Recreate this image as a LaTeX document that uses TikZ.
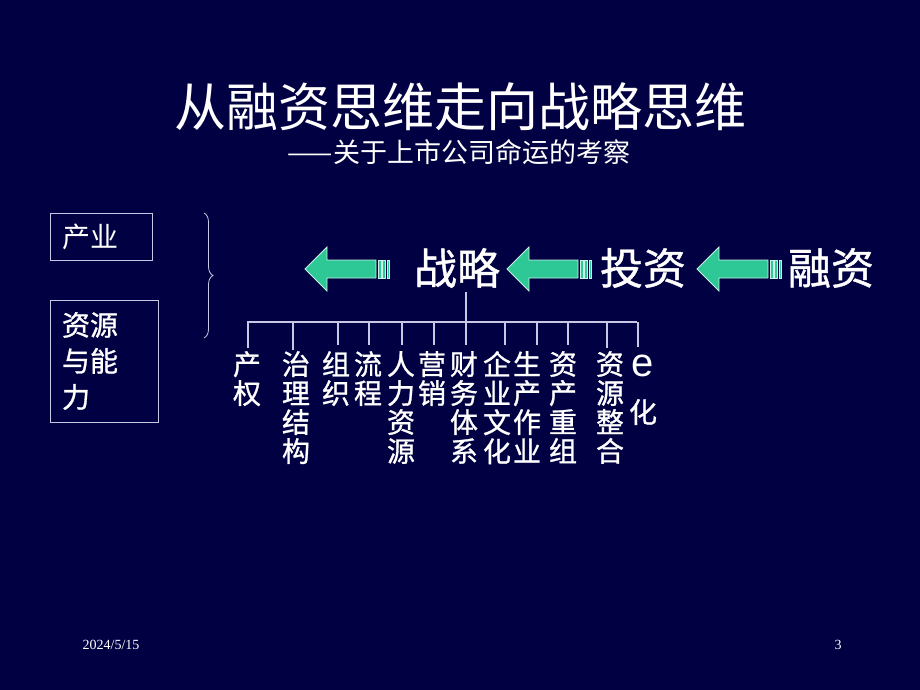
\documentclass[tikz,border=0pt]{standalone}
\usepackage{fontspec}
\setmainfont{Liberation Serif}
\newfontfamily\cjk{Noto Sans CJK SC}
\newfontfamily\cjkmid[FakeBold=1]{Noto Sans CJK SC}
\newfontfamily\latinsans{Liberation Sans}
\usetikzlibrary{positioning,decorations.pathreplacing}
\definecolor{slidebg}{RGB}{0,0,66}
\definecolor{arrowfill}{RGB}{45,200,150}
\definecolor{linegray}{RGB}{200,200,228}

\begin{document}
\begin{tikzpicture}[
  x=1pt,
  y=-1pt,
  item/.style={
    text=white,
    font=\cjkmid\fontsize{28}{29}\selectfont,
    align=center,
    inner sep=0pt,
    anchor=north
  },
  stage/.style={
    text=white,
    font=\cjkmid\fontsize{43}{43}\selectfont,
    inner sep=0pt
  },
  frame/.style={
    draw=linegray,
    line width=1pt,
    text=white,
    align=left,
    inner xsep=12pt
  },
  tick/.style={
    draw=linegray,
    line width=1.2pt
  },
  backarrow/.pic={
    \path[draw=white!75!arrowfill,line width=.8pt,fill=arrowfill]
      (0,0) -- (22,-22) -- (22,-9) -- (71,-9) -- (71,9) -- (22,9) -- (22,22) -- cycle;
    \path[draw=white!75!arrowfill,line width=.6pt,fill=arrowfill]
      (73,-9) rectangle (76,9)
      (77.5,-9) rectangle (80.5,9)
      (82,-9) rectangle (84,9);
  },
]
\fill[slidebg] (0,0) rectangle (920,690);

% title
\node[text=white,font=\cjk\fontsize{52}{52}\selectfont] (title) at (460,107) {从融资思维走向战略思维};
\node[text=white,font=\cjk\fontsize{27}{27}\selectfont] (subtitle) at (459,152) {——关于上市公司命运的考察};

% left column
\node[frame,font=\cjk\fontsize{28}{29}\selectfont,text width=78pt,minimum height=47pt]
  (industry) at (101,236.5) {产业};
\node[frame,font=\cjkmid\fontsize{28}{36}\selectfont,text width=84pt,minimum height=122pt]
  (ability) at (104,361) {资源\\与能\\力};
\draw[linegray,line width=.8pt,decorate,decoration={brace,amplitude=9pt}]
  (204,213) -- (204,338);

% chain
\pic at (305,269) {backarrow};
\node[stage] (strategy) at (457,268) {战略};
\pic at (507,269) {backarrow};
\node[stage] (invest) at (643,268) {投资};
\pic at (697,269) {backarrow};
\node[stage] (finance) at (831,268) {融资};

% tree
\coordinate (top) at (466,292);
\coordinate (barL) at (247,322);
\coordinate (barR) at (637,322);
\draw[tick] (top) -- (466,322);
\draw[tick] (barL) -- (barR);
\foreach \x/\y in {248/348,293/350,338/345,369/345,402/345,434/345,
                   466/345,505/345,537/345,568/345,607/348,638/347}
  \draw[tick] (\x,322) -- (\x,\y);

\foreach \x/\txt [count=\i] in {247/产\\权,296/治\\理\\结\\构,336/组\\织,368/流\\程,
    401/人\\力\\资\\源,432/营\\销,464/财\\务\\体\\系,497/企\\业\\文\\化,
    527/生\\产\\作\\业,563/资\\产\\重\\组,610/资\\源\\整\\合}
  \node[item] (lab\i) at (\x,351) {\txt};
\node[text=white,font=\latinsans\fontsize{40}{40}\selectfont,inner sep=0pt] (labe) at (643,366) {e};
\node[item,anchor=center] (labhua) at (643,412) {化};

% footer
\node[text=white,font=\fontsize{14}{14}\selectfont] (date) at (111,645) {2024/5/15};
\node[text=white,font=\fontsize{14}{14}\selectfont] (page) at (838,645) {3};
\end{tikzpicture}
\end{document}
